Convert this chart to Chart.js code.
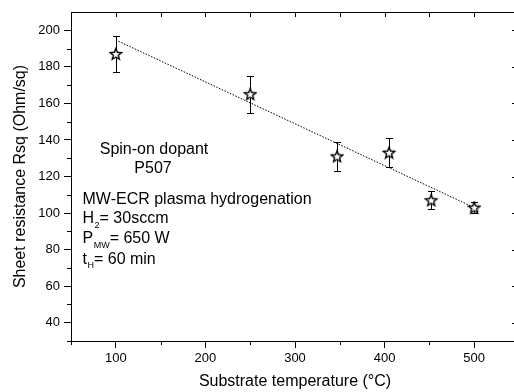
<!DOCTYPE html>
<html>
<head>
<meta charset="utf-8">
<script src="https://cdn.jsdelivr.net/npm/chart.js@4.4.1/dist/chart.umd.min.js"></script>
<style>
  html, body { margin: 0; padding: 0; background: #fff; overflow: hidden; }
  #wrap { width: 514px; height: 392px; overflow: hidden; }
</style>
</head>
<body>
<div id="wrap"><canvas id="c" width="519" height="392"></canvas></div>
<script>
// measured points (substrate temperature vs sheet resistance)
const temps = [100, 250, 347, 405, 452, 500];
const rsq = [187, 165, 131, 133, 107, 103];
const rsqErr = [10, 10, 8, 8, 5, 3];

// linear fit drawn as dotted line
const fitX = [103, 500];
const fitY = [194, 103];

const xTicks = [100, 200, 300, 400, 500];
const yTicks = [40, 60, 80, 100, 120, 140, 160, 180, 200];
const xMinor = [50, 150, 250, 350, 450];
const yMinor = [30, 50, 70, 90, 110, 130, 150, 170, 190];

const FONT = "'Liberation Sans', Arial, sans-serif";

// open star marker with white fill
function makeStar() {
  const c = document.createElement('canvas');
  c.width = 14; c.height = 14;
  const g = c.getContext('2d');
  g.beginPath();
  for (let i = 0; i < 10; i++) {
    const r = i % 2 === 0 ? 6 : 2.6;
    const a = -Math.PI / 2 + i * Math.PI / 5;
    const px = 7 + r * Math.cos(a), py = 7.4 + r * Math.sin(a);
    if (i === 0) g.moveTo(px, py); else g.lineTo(px, py);
  }
  g.closePath();
  g.fillStyle = '#fff';
  g.fill();
  g.strokeStyle = '#000';
  g.lineWidth = 1.4;
  g.stroke();
  return c;
}

const extras = {
  id: 'extras',
  beforeDatasetsDraw(chart) {
    const { ctx, scales: { x, y } } = chart;
    ctx.save();
    ctx.strokeStyle = '#000';
    ctx.lineWidth = 1;
    temps.forEach((t, i) => {
      const px = Math.round(x.getPixelForValue(t)) + 0.5;
      const top = Math.round(y.getPixelForValue(rsq[i] + rsqErr[i])) + 0.5;
      const bot = Math.round(y.getPixelForValue(rsq[i] - rsqErr[i])) + 0.5;
      ctx.beginPath();
      ctx.moveTo(px, top); ctx.lineTo(px, bot);
      ctx.moveTo(px - 3.5, top); ctx.lineTo(px + 3.5, top);
      ctx.moveTo(px - 3.5, bot); ctx.lineTo(px + 3.5, bot);
      ctx.stroke();
    });
    ctx.restore();
  },
  afterDraw(chart) {
    const { ctx, chartArea: a, scales: { x, y } } = chart;
    ctx.save();
    ctx.strokeStyle = '#000';
    ctx.lineWidth = 1;
    ctx.beginPath();
    // top and right frame
    ctx.moveTo(a.left, a.top + 0.5); ctx.lineTo(a.right, a.top + 0.5);
    ctx.moveTo(a.right - 0.5, a.top); ctx.lineTo(a.right - 0.5, a.bottom);
    // minor ticks outward on bottom and left
    xMinor.forEach(v => {
      const px = Math.round(x.getPixelForValue(v)) + 0.5;
      ctx.moveTo(px, a.bottom); ctx.lineTo(px, a.bottom + 4);
    });
    yMinor.forEach(v => {
      const py = Math.round(y.getPixelForValue(v)) + 0.5;
      ctx.moveTo(a.left, py); ctx.lineTo(a.left - 4, py);
    });
    // inward ticks on top and right
    xTicks.concat(xMinor).forEach(v => {
      const px = Math.round(x.getPixelForValue(v)) + 0.5;
      ctx.moveTo(px, a.top); ctx.lineTo(px, a.top + 5);
    });
    yTicks.forEach(v => {
      const py = Math.round(y.getPixelForValue(v)) + 0.5;
      ctx.moveTo(a.right, py); ctx.lineTo(a.right - 7, py);
    });
    ctx.stroke();

    // annotation text
    ctx.fillStyle = '#000';
    ctx.textBaseline = 'alphabetic';
    ctx.font = '16px ' + FONT;
    ctx.textAlign = 'center';
    ctx.fillText('Spin-on dopant', 154, 154);
    ctx.fillText('P507', 153, 173);
    ctx.textAlign = 'left';
    ctx.fillText('MW-ECR plasma hydrogenation', 82.5, 204);
    const sub = (main, s, rest, yb) => {
      ctx.font = '16px ' + FONT;
      ctx.fillText(main, 82.5, yb);
      let cx = 82.5 + ctx.measureText(main).width + 0.5;
      ctx.font = '9px ' + FONT;
      ctx.fillText(s, cx, yb + 4.5);
      cx += ctx.measureText(s).width;
      ctx.font = '16px ' + FONT;
      ctx.fillText(rest, cx, yb);
    };
    sub('H', '2', '= 30sccm', 223);
    sub('P', 'MW', '= 650 W', 243);
    sub('t', 'H', '= 60 min', 263.5);
    ctx.restore();
  }
};

new Chart(document.getElementById('c'), {
  type: 'scatter',
  data: {
    datasets: [
      {
        label: 'Rsq',
        data: temps.map((t, i) => ({ x: t, y: rsq[i] })),
        pointStyle: makeStar(),
        pointRadius: 6,
        order: 0
      },
      {
        label: 'fit',
        data: fitX.map((t, i) => ({ x: t, y: fitY[i] })),
        showLine: true,
        borderColor: '#000',
        borderWidth: 1,
        borderDash: [1.5, 1.5],
        pointRadius: 0,
        order: 1
      }
    ]
  },
  options: {
    responsive: false,
    animation: false,
    devicePixelRatio: 1,
    layout: { autoPadding: false, padding: { top: 12, right: 0, left: 0, bottom: 0 } },
    plugins: { legend: { display: false }, tooltip: { enabled: false } },
    scales: {
      x: {
        type: 'linear',
        min: 50,
        max: 550,
        afterBuildTicks: s => { s.ticks = xTicks.map(v => ({ value: v })); },
        afterFit: s => { s.height = 51; s.paddingLeft = 0; s.paddingRight = 0; },
        grid: { drawOnChartArea: false, color: '#000', tickLength: 7 },
        border: { color: '#000', width: 1 },
        ticks: { color: '#000', font: { family: FONT, size: 13 }, padding: 3, maxRotation: 0 },
        title: {
          display: true,
          text: 'Substrate temperature (°C)',
          color: '#000',
          font: { family: FONT, size: 16 },
          padding: { top: 1, bottom: 1 }
        }
      },
      y: {
        min: 30,
        max: 210,
        afterBuildTicks: s => { s.ticks = yTicks.map(v => ({ value: v })); },
        afterFit: s => { s.width = 71; s.paddingTop = 0; s.paddingBottom = 0; },
        grid: { drawOnChartArea: false, color: '#000', tickLength: 7 },
        border: { color: '#000', width: 1 },
        ticks: { color: '#000', font: { family: FONT, size: 13 }, padding: 4 },
        title: {
          display: true,
          text: 'Sheet resistance Rsq (Ohm/sq)',
          color: '#000',
          font: { family: FONT, size: 16 },
          padding: { top: 11, bottom: 0 }
        }
      }
    }
  },
  plugins: [extras]
});
</script>
</body>
</html>
